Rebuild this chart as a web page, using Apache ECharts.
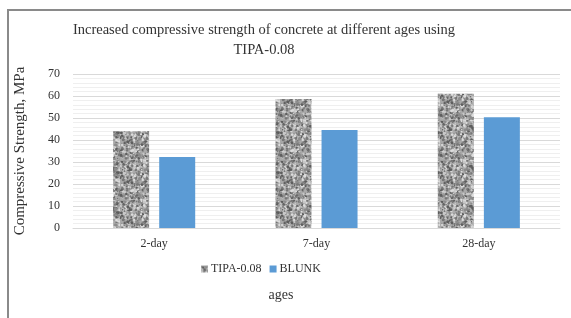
<!DOCTYPE html>
<html>
<head>
<meta charset="utf-8">
<script src="https://cdn.jsdelivr.net/npm/echarts@6/dist/echarts.min.js"></script>
<style>
  html, body { margin: 0; padding: 0; background: #fff; }
  #chart { width: 571px; height: 318px; }
</style>
</head>
<body>
<div id="chart"></div>
<script>
// data
const categories = ['2-day', '7-day', '28-day'];
const tipaValues = [44, 58.6, 61];
const blunkValues = [32.3, 44.6, 50.3];
const yTicks = [0, 10, 20, 30, 40, 50, 60, 70];

// speckled grey texture for the TIPA bars (seeded, so it looks the same every run)
function makeSpeckle() {
  const c = document.createElement('canvas');
  c.width = 40;
  c.height = 40;
  const ctx = c.getContext('2d');
  ctx.fillStyle = '#a9a9a9';
  ctx.fillRect(0, 0, 40, 40);
  let seed = 11;
  const rnd = () => {
    seed = (seed * 16807) % 2147483647;
    return seed / 2147483647;
  };
  const shades = ['#5e5e5e', '#777', '#8c8c8c', '#c8c8c8', '#dcdcdc'];
  for (let i = 0; i < 520; i++) {
    const x = rnd() * 40, y = rnd() * 40, r = 0.5 + rnd() * 1.1;
    ctx.fillStyle = shades[Math.floor(rnd() * shades.length)];
    ctx.beginPath();
    ctx.arc(x, y, r, 0, Math.PI * 2);
    ctx.fill();
  }
  return c;
}

const chart = echarts.init(document.getElementById('chart'));
const speckle = { image: makeSpeckle(), repeat: 'repeat' };

const serif = '"Liberation Serif", "DejaVu Serif", serif';

chart.setOption({
  animation: false,
  textStyle: { fontFamily: serif },
  graphic: [
    {
      type: 'rect',
      shape: { x: 8, y: 10, width: 580, height: 320 },
      style: { fill: 'none', stroke: '#8a8a8a', lineWidth: 2 },
      silent: true
    },
    {
      type: 'text',
      x: 264,
      y: 20,
      style: {
        text: 'Increased compressive strength of concrete at different ages using\nTIPA-0.08',
        font: '14.5px ' + serif,
        fill: '#333',
        align: 'center',
        lineHeight: 20
      }
    },
    {
      type: 'text',
      x: 281,
      y: 288,
      style: { text: 'ages', font: '14px ' + serif, fill: '#333', align: 'center' }
    }
  ],
  legend: {
    data: ['TIPA-0.08', 'BLUNK'],
    left: 196,
    top: 258,
    itemWidth: 7,
    itemHeight: 7,
    itemGap: 8,
    icon: 'rect',
    textStyle: { fontFamily: serif, fontSize: 12, color: '#333', padding: [0, 0, 0, -2] }
  },
  grid: {
    left: 73,
    right: 11,
    top: 74,
    bottom: 90
  },
  xAxis: {
    type: 'category',
    data: categories,
    axisTick: { show: false },
    axisLine: { lineStyle: { color: '#d9d9d9' } },
    axisLabel: { fontFamily: serif, fontSize: 12, color: '#333', margin: 10 }
  },
  yAxis: {
    type: 'value',
    min: 0,
    max: 70,
    interval: 10,
    name: 'Compressive Strength, MPa',
    nameLocation: 'middle',
    nameGap: 45,
    nameTextStyle: { fontFamily: serif, fontSize: 15, color: '#333' },
    axisLabel: {
      fontFamily: serif,
      fontSize: 12,
      color: '#333',
      margin: 13,
      formatter: v => (yTicks.includes(v) ? String(v) : '')
    },
    axisLine: { show: false },
    axisTick: { show: false },
    splitLine: { lineStyle: { color: '#d9d9d9' } },
    minorTick: { show: false, splitNumber: 5 },
    minorSplitLine: { show: true, lineStyle: { color: '#efefef' } }
  },
  series: [
    {
      name: 'TIPA-0.08',
      type: 'bar',
      data: tipaValues,
      barWidth: 36,
      barGap: '28%',
      itemStyle: { color: speckle }
    },
    {
      name: 'BLUNK',
      type: 'bar',
      data: blunkValues,
      barWidth: 36,
      itemStyle: { color: '#5b9bd5' }
    }
  ]
});
</script>
</body>
</html>
